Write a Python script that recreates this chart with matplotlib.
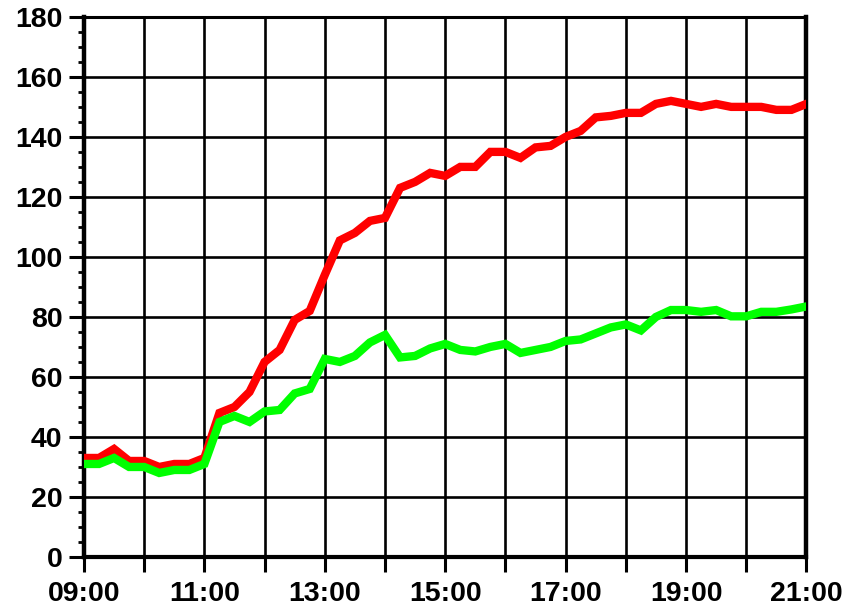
import matplotlib.pyplot as plt
import numpy as np

# readings every 15 minutes from 09:00 to 21:00
hours = np.arange(9, 21.01, 0.25)

red = [33, 33, 36, 32, 32, 30, 31, 31, 33,
       48, 50, 55, 65, 69, 79, 82,
       94, 105.5, 108, 112, 113, 123, 125, 128,
       127, 130, 130, 135, 135, 133, 136.5, 137,
       140, 142, 146.5, 147, 148, 148, 151, 152,
       151, 150, 151, 150, 150, 150, 149, 149, 151]

green = [31, 31, 33, 30, 30, 28, 29, 29, 31,
         45, 47, 45, 48.5, 49, 54.5, 56,
         66, 65, 67, 71.5, 74, 66.5, 67, 69.5,
         71, 69, 68.5, 70, 71, 68, 69, 70,
         72, 72.5, 74.5, 76.5, 77.5, 75.5, 80, 82.3,
         82.3, 81.7, 82.3, 80.2, 80.2, 81.7, 81.7, 82.5, 83.5]

xticks = list(range(9, 22))
xlabels = ['%02d:00' % h if (h - 9) % 2 == 0 else '' for h in xticks]
yticks = list(range(0, 181, 20))

plt.rcParams['font.family'] = ['Liberation Sans', 'DejaVu Sans']
plt.rcParams['font.weight'] = 'bold'

fig = plt.figure(figsize=(8.48, 6.11), dpi=100)
ax = fig.add_axes([0.099, 0.0884, 0.852, 0.884])

ax.plot(hours, red, color='#ff0000', lw=6, solid_joinstyle='miter', zorder=3)
ax.plot(hours, green, color='#00ff00', lw=6, solid_joinstyle='miter', zorder=4)

ax.set_xlim(9, 21)
ax.set_ylim(0, 180)
ax.set_xticks(xticks)
ax.set_xticklabels(xlabels)
ax.set_yticks(yticks)
ax.set_yticks(np.arange(0, 181, 5), minor=True)

ax.grid(True, which='major', color='black', lw=1.9, zorder=1)
ax.tick_params(axis='both', which='major', length=10.5, width=2.2, labelsize=20.5, direction='out')
ax.tick_params(axis='x', which='major', pad=7)
ax.tick_params(axis='y', which='major', pad=5)
ax.tick_params(axis='y', which='minor', length=4.5, width=2, direction='out')
ax.tick_params(axis='x', which='minor', length=0)

for lab in ax.get_xticklabels() + ax.get_yticklabels():
    lab.set_fontweight('bold')

ax.spines['left'].set_linewidth(3.2)
ax.spines['bottom'].set_linewidth(3)
ax.spines['right'].set_linewidth(3.2)
ax.spines['top'].set_linewidth(2.2)

fig.savefig('out.png', dpi=100)
